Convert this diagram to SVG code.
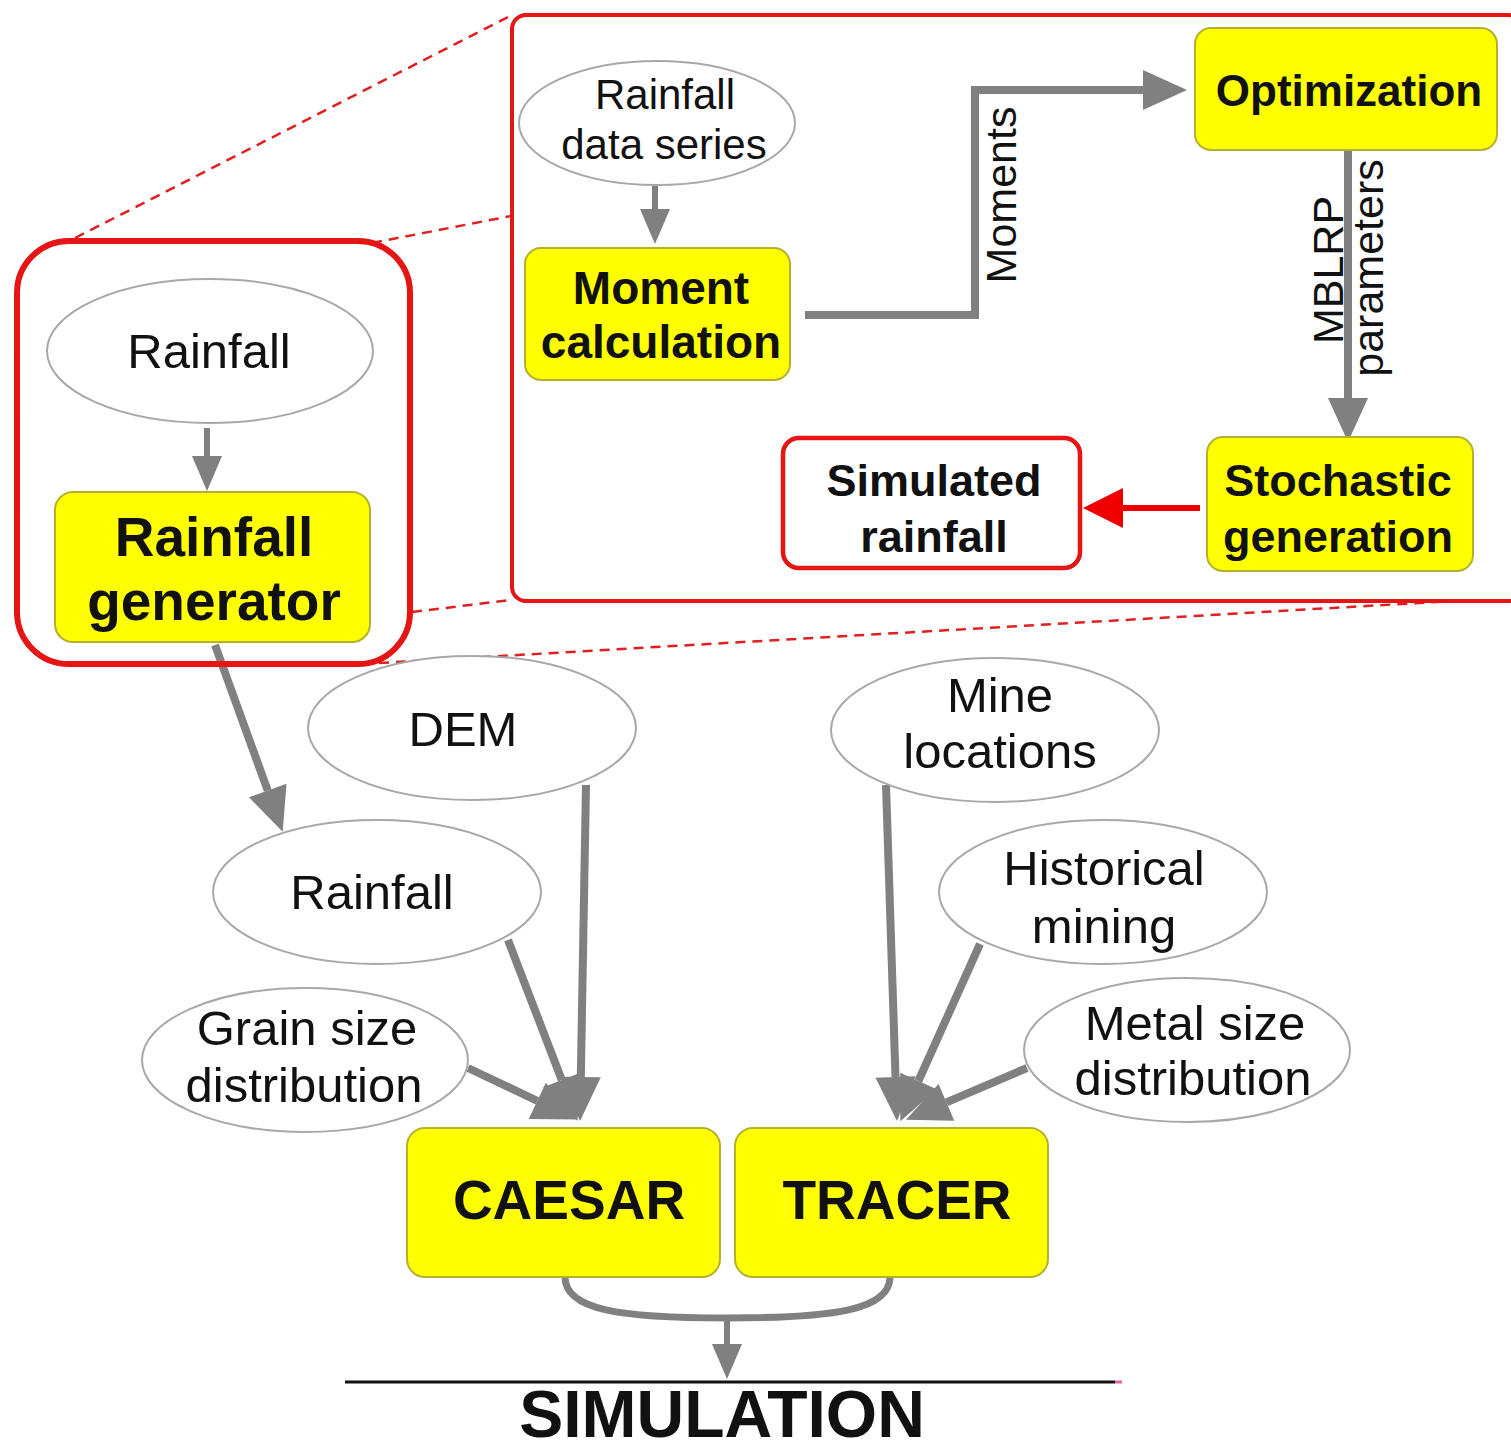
<svg xmlns="http://www.w3.org/2000/svg" width="1511" height="1453" viewBox="0 0 1511 1453">
<style>
.t{font-family:"Liberation Sans",Arial,sans-serif;fill:#111;text-anchor:middle}
.b{font-weight:bold}
.ell{fill:#fff;stroke:#a8a8a8;stroke-width:2}
.yb{fill:#ffff00;stroke:#b5b030;stroke-width:2}
.con{fill:none;stroke:#808080;stroke-width:8}
.dash{fill:none;stroke:#e02020;stroke-width:2.5;stroke-dasharray:10,7}
</style>
<defs>
<marker id="ag" markerUnits="userSpaceOnUse" markerWidth="50" markerHeight="44" refX="0" refY="20" orient="auto" overflow="visible"><path d="M0,0 L44,20 L0,40 Z" fill="#808080"/></marker>
<marker id="ags" markerUnits="userSpaceOnUse" markerWidth="40" markerHeight="32" refX="0" refY="15" orient="auto" overflow="visible"><path d="M0,0 L35,15 L0,30 Z" fill="#808080"/></marker>
<marker id="ar" markerUnits="userSpaceOnUse" markerWidth="46" markerHeight="44" refX="0" refY="20" orient="auto" overflow="visible"><path d="M0,0 L40,20 L0,40 Z" fill="#ee0000"/></marker>
</defs>
<rect width="1511" height="1453" fill="#fff"/>

<g id="zoom-lines">
<line class="dash" x1="75" y1="238" x2="514" y2="14"/>
<line class="dash" x1="372" y1="243" x2="511" y2="216"/>
<line class="dash" x1="412" y1="612" x2="511" y2="600"/>
<line class="dash" x1="362" y1="664" x2="1505" y2="598"/>
</g>

<g id="inset">
<rect x="512" y="15" width="1010" height="586" rx="14" fill="#fff" stroke="#e51515" stroke-width="4"/>
</g>

<g id="connectors">
<line class="con" style="stroke-width:6" x1="655" y1="186" x2="655" y2="209" marker-end="url(#ags)"/>
<polyline class="con" points="805,315 975,315 975,90 1143,90" marker-end="url(#ag)"/>
<line class="con" x1="1348" y1="150" x2="1348" y2="398" marker-end="url(#ag)"/>
<line style="stroke:#ee0000;stroke-width:6" x1="1200" y1="508" x2="1123" y2="508" marker-end="url(#ar)"/>
<line class="con" style="stroke-width:6" x1="207" y1="428" x2="207" y2="456" marker-end="url(#ags)"/>
<line class="con" x1="215" y1="645" x2="267.7" y2="790.5" marker-end="url(#ag)"/>
<line class="con" x1="586" y1="785" x2="580.8" y2="1077" marker-end="url(#ag)"/>
<line class="con" x1="508" y1="940" x2="561.8" y2="1080" marker-end="url(#ag)"/>
<line class="con" x1="468" y1="1068" x2="537.3" y2="1100.8" marker-end="url(#ag)"/>
<line class="con" x1="886" y1="785" x2="895.5" y2="1077" marker-end="url(#ag)"/>
<line class="con" x1="980" y1="944" x2="918.4" y2="1081" marker-end="url(#ag)"/>
<line class="con" x1="1027" y1="1068" x2="946.4" y2="1102.4" marker-end="url(#ag)"/>
<path class="con" style="stroke-width:7" d="M565,1277 C565,1310 620,1318 727,1318 C834,1318 890,1310 890,1277"/>
<line class="con" style="stroke-width:6" x1="727" y1="1318" x2="727" y2="1344" marker-end="url(#ags)"/>
<text class="t" font-size="43" transform="translate(1016,195) rotate(-90)">Moments</text>
<text class="t" font-size="43" transform="translate(1343,270) rotate(-90)">MBLRP</text>
<text class="t" font-size="43" transform="translate(1383,268) rotate(-90)">parameters</text>
</g>

<g id="rainfall-data-series">
<ellipse class="ell" cx="657" cy="123" rx="138" ry="62"/>
<text class="t" font-size="42" x="665" y="109">Rainfall</text>
<text class="t" font-size="42" x="664" y="159">data series</text>
</g>
<g id="moment-calculation">
<rect class="yb" x="525" y="248" width="265" height="132" rx="16"/>
<text class="t b" font-size="46" x="661" y="304">Moment</text>
<text class="t b" font-size="46" x="661" y="358">calculation</text>
</g>
<g id="optimization">
<rect class="yb" x="1195" y="28" width="302" height="122" rx="16"/>
<text class="t b" font-size="44" x="1349" y="106">Optimization</text>
</g>
<g id="stochastic-generation">
<rect class="yb" x="1207" y="437" width="266" height="134" rx="16"/>
<text class="t b" font-size="45" x="1338" y="496">Stochastic</text>
<text class="t b" font-size="45" x="1338" y="552">generation</text>
</g>
<g id="simulated-rainfall">
<rect x="783" y="438" width="297" height="130" rx="16" fill="#fff" stroke="#e51515" stroke-width="4.5"/>
<text class="t b" font-size="45" x="934" y="496">Simulated</text>
<text class="t b" font-size="45" x="934" y="552">rainfall</text>
</g>

<g id="rainfall-generator-group">
<rect x="17" y="241" width="393" height="423" rx="52" fill="none" stroke="#e51515" stroke-width="6"/>
</g>
<g id="rainfall-top">
<ellipse class="ell" cx="210" cy="351" rx="163" ry="72"/>
<text class="t" font-size="49" x="209" y="368">Rainfall</text>
</g>
<g id="rainfall-generator">
<rect class="yb" x="55" y="492" width="315" height="150" rx="18"/>
<text class="t b" font-size="55" x="214" y="556">Rainfall</text>
<text class="t b" font-size="55" x="214" y="620">generator</text>
</g>

<g id="dem">
<ellipse class="ell" cx="472" cy="728" rx="164" ry="72"/>
<text class="t" font-size="49" x="463" y="746">DEM</text>
</g>
<g id="rainfall">
<ellipse class="ell" cx="377" cy="892" rx="164" ry="72"/>
<text class="t" font-size="49" x="372" y="909">Rainfall</text>
</g>
<g id="grain-size">
<ellipse class="ell" cx="305" cy="1060" rx="163" ry="72"/>
<text class="t" font-size="49" x="307" y="1045">Grain size</text>
<text class="t" font-size="49" x="304" y="1102">distribution</text>
</g>
<g id="mine-locations">
<ellipse class="ell" cx="995" cy="730" rx="164" ry="72"/>
<text class="t" font-size="49" x="1000" y="712">Mine</text>
<text class="t" font-size="49" x="1000" y="768">locations</text>
</g>
<g id="historical-mining">
<ellipse class="ell" cx="1103" cy="892" rx="164" ry="72"/>
<text class="t" font-size="49" x="1104" y="885">Historical</text>
<text class="t" font-size="49" x="1104" y="943">mining</text>
</g>
<g id="metal-size">
<ellipse class="ell" cx="1187" cy="1050" rx="163" ry="72"/>
<text class="t" font-size="49" x="1195" y="1040">Metal size</text>
<text class="t" font-size="49" x="1193" y="1095">distribution</text>
</g>
<g id="caesar">
<rect class="yb" x="407" y="1128" width="313" height="149" rx="18"/>
<text class="t b" font-size="55" x="569" y="1219">CAESAR</text>
</g>
<g id="tracer">
<rect class="yb" x="735" y="1128" width="313" height="149" rx="18"/>
<text class="t b" font-size="55" x="897" y="1219">TRACER</text>
</g>
<g id="simulation">
<line x1="345" y1="1382" x2="1115" y2="1382" stroke="#111" stroke-width="3"/>
<line x1="1115" y1="1382" x2="1122" y2="1382" stroke="#e060a0" stroke-width="3"/>
<text class="t b" font-size="66" x="722" y="1437">SIMULATION</text>
</g>
</svg>
